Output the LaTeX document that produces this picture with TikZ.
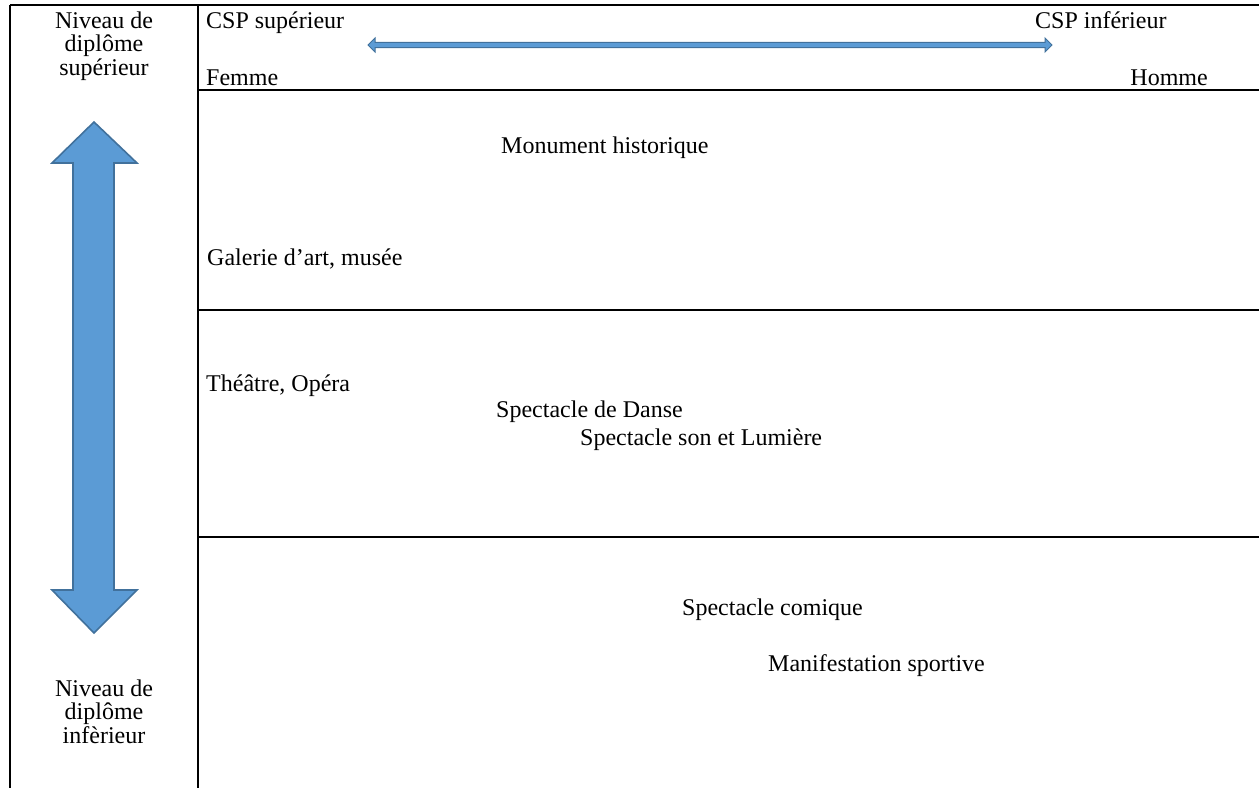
\documentclass[tikz,border=0pt]{standalone}
\usepackage{fontspec}
\setmainfont{Liberation Serif}
\definecolor{arrfill}{HTML}{5B9BD5}
\definecolor{arrline}{HTML}{41719C}
\begin{document}
\begin{tikzpicture}[x=1pt,y=-1pt,
  grid/.style={line width=2pt,black},
  lbl/.style={inner sep=0pt,font=\fontsize{24}{23.5}\selectfont},
  side/.style={lbl,align=center,anchor=base},
  bigarrow/.style={fill=arrfill,draw=arrline,line width=1.6pt,line join=miter},
  thinarrow/.style={fill=arrfill,draw=arrline,line width=1pt,line join=miter}]
\useasboundingbox (0,0) rectangle (1259,788);
% grid lines
\coordinate (tl) at (10,5);
\coordinate (tr) at (1259,5);
\coordinate (bl) at (10,788);
\coordinate (st) at (198,5);
\coordinate (sb) at (198,788);
\coordinate (h1l) at (198,90);
\coordinate (h1r) at (1259,90);
\coordinate (h2l) at (198,310);
\coordinate (h2r) at (1259,310);
\coordinate (h3l) at (198,537);
\coordinate (h3r) at (1259,537);
\draw[grid] (tl) -- (tr);
\draw[grid] (tl) -- (bl);
\draw[grid] (st) -- (sb);
\draw[grid] (h1l) -- (h1r);
\draw[grid] (h2l) -- (h2r);
\draw[grid] (h3l) -- (h3r);
% big vertical double arrow
\draw[bigarrow] (94,122) -- (137,163) -- (114,163) -- (114,590) -- (137,590) -- (94,633)
  -- (52,590) -- (73,590) -- (73,163) -- (52,163) -- cycle;
% thin horizontal double arrow
\draw[thinarrow] (368,45) -- (375,38) -- (375,42.3) -- (1045,42.3) -- (1045,38) -- (1052,45)
  -- (1045,52) -- (1045,47.7) -- (375,47.7) -- (375,52) -- cycle;
% texts
\node[side] (top) at (104,75) {Niveau de\\diplôme\\supérieur};
\node[side] (bot) at (104,743) {Niveau de\\diplôme\\infèrieur};
\node[lbl,anchor=base west] (cspsup) at (206,28) {CSP supérieur};
\node[lbl,anchor=base west] (femme) at (206,85) {Femme};
\node[lbl,anchor=base west] (cspinf) at (1035,28) {CSP inférieur};
\node[lbl,anchor=base east] (homme) at (1208,85) {Homme};
\node[lbl,anchor=base west] (monument) at (501,153) {Monument historique};
\node[lbl,anchor=base west] (galerie) at (207,265) {Galerie d’art, musée};
\node[lbl,anchor=base west] (theatre) at (206,391) {Théâtre, Opéra};
\node[lbl,anchor=base west] (danse) at (496,417) {Spectacle de Danse};
\node[lbl,anchor=base west] (lumiere) at (580,445) {Spectacle son et Lumière};
\node[lbl,anchor=base west] (comique) at (682,615) {Spectacle comique};
\node[lbl,anchor=base west] (sport) at (768,671) {Manifestation sportive};
\end{tikzpicture}
\end{document}
